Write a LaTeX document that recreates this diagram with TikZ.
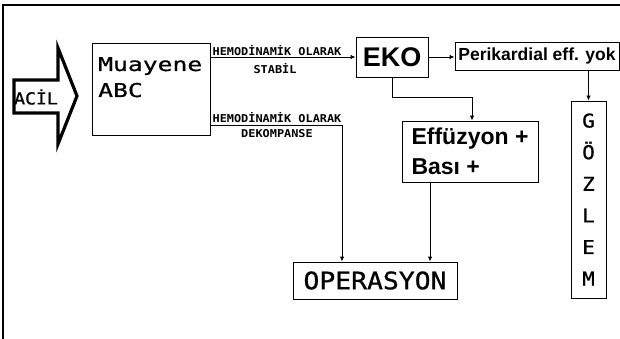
\documentclass[tikz,border=0pt]{standalone}
\usepackage{fontspec}
\usetikzlibrary{arrows.meta}
\newfontfamily\monof[FakeStretch=1.1]{DejaVu Sans Mono}
\newfontfamily\monom[FakeStretch=1.1,FakeBold=0.9]{DejaVu Sans Mono}
\newfontfamily\monow[FakeStretch=1.3,FakeBold=0.9]{DejaVu Sans Mono}
\newfontfamily\sansf{Liberation Sans}
\tikzset{
  box/.style={draw=black, line width=0.9pt, inner sep=0pt, fill=white},
  arr/.style={draw=black, line width=0.9pt, -{Latex[length=5pt,width=4.5pt]}},
  lab/.style={inner sep=0pt, font=\monof\bfseries\fontsize{10.8}{12}\selectfont},
  mutxt/.style={inner sep=0pt, anchor=base west, font=\monow\fontsize{19}{24}\selectfont},
}
\begin{document}
\begin{tikzpicture}[x=1pt,y=-1pt]
\useasboundingbox (0,0) rectangle (620,339);
% frame (top and left lines)
\draw[line width=1.6pt] (3,339) -- (3,5) -- (620,5);
% ACIL arrow
\draw[line width=3.2pt, line join=miter, fill=white] (14,80) -- (58,80) -- (58,48) -- (77,96) -- (58,144) -- (58,113) -- (14,113) -- cycle;
\node[inner sep=0pt, font=\monom\fontsize{16.5}{20}\selectfont] (acil) at (36,97) {ACİL};
% Muayene box
\node[box, minimum width=118pt, minimum height=92pt] (mu) at (151,89) {};
\node[mutxt] (mu1) at (98,71) {Muayene};
\node[mutxt] (mu2) at (98,97) {ABC};
% EKO
\node[box, minimum width=72pt, minimum height=40pt, font=\sansf\bfseries\fontsize{27}{30}\selectfont] (eko) at (392,57) {EKO};
% Perikardial
\node[box, minimum width=164pt, minimum height=28pt, font=\sansf\bfseries\fontsize{17.5}{20}\selectfont] (per) at (537,56) {Perikardial eff. yok};
% Effuzyon
\node[box, minimum width=136pt, minimum height=61pt, align=left, font=\sansf\bfseries\fontsize{23}{30}\selectfont] (eff) at (470,151.5) {Effüzyon +\\Bası +};
% GOZLEM
\node[box, minimum width=35pt, minimum height=197pt, align=center, font=\monom\fontsize{19}{31.6}\selectfont] (gz) at (588.5,199.5) {G\\Ö\\Z\\L\\E\\M};
% OPERASYON
\node[box, minimum width=164pt, minimum height=37pt, font=\monom\fontsize{24}{28}\selectfont] (op) at (375,280.5) {OPERASYON};
% labels
\node[lab] (l1) at (277,51) {HEMODİNAMİK OLARAK};
\node[lab] (l2) at (275,69) {STABİL};
\node[lab] (l3) at (277,118) {HEMODİNAMİK OLARAK};
\node[lab] (l4) at (277,134) {DEKOMPANSE};
% connectors
\coordinate (c1) at (342,125);
\coordinate (c2) at (472,97);
\coordinate (c3) at (430,182);
\draw[arr] (mu.east |- eko.west) -- (eko.west);
\draw[arr] (mu.east |- c1) -- (c1) -- (c1 |- op.north);
\draw[arr] (eko.east) -- (eko.east -| per.west);
\draw[arr] (gz.north |- per.south) -- (gz.north);
\draw[arr] (eko.south) -- (eko.south |- c2) -- (c2) -- (c2 |- eff.north);
\draw[arr] (c3) -- (c3 |- op.north);
\end{tikzpicture}
\end{document}
